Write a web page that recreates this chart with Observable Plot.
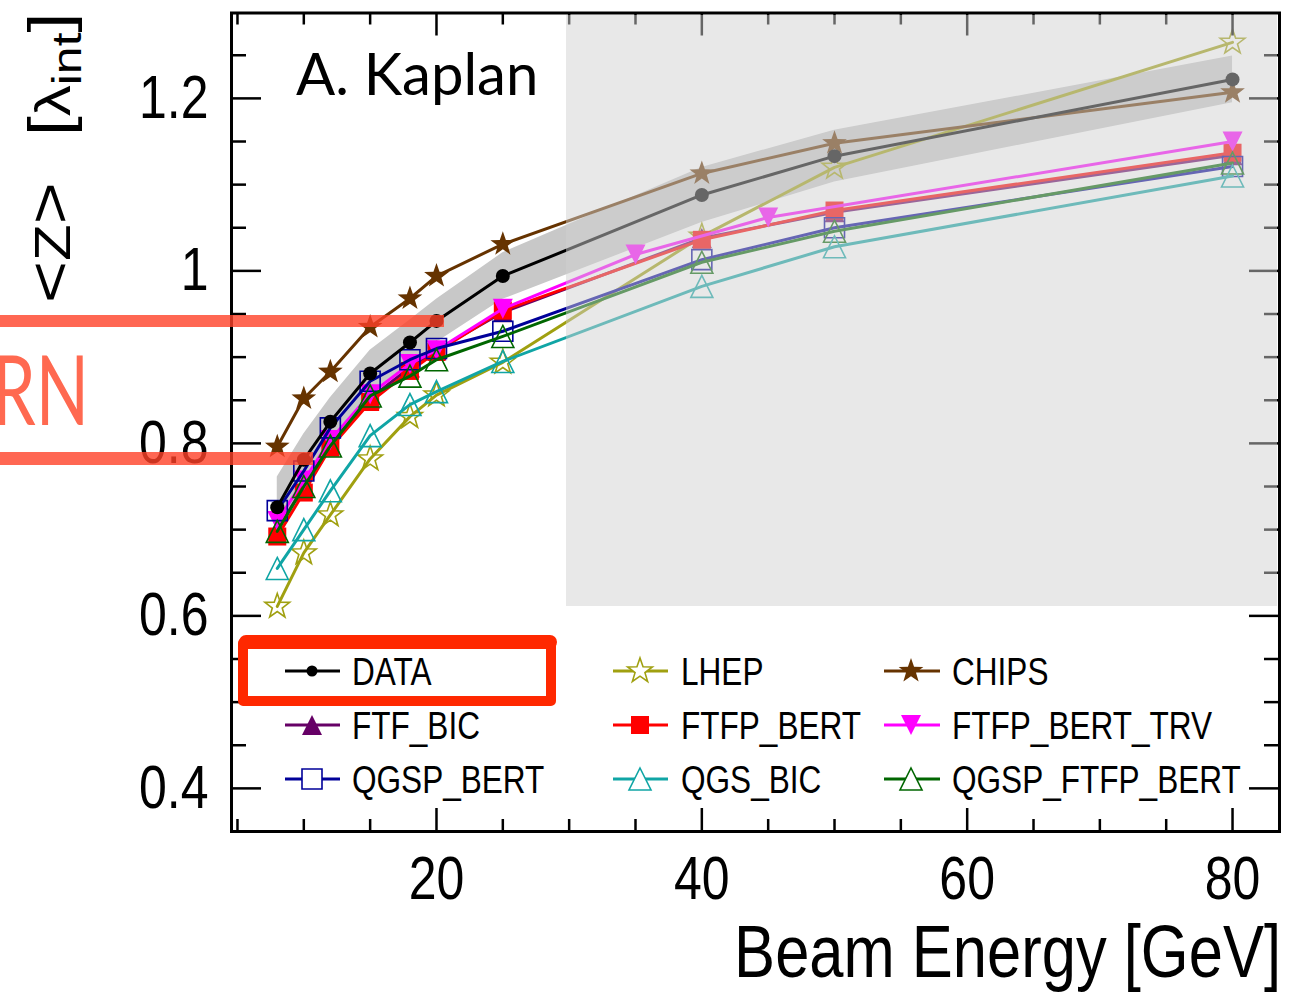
<!DOCTYPE html>
<html><head><meta charset="utf-8">
<script src="https://cdn.jsdelivr.net/npm/d3@7"></script>
<script src="https://cdn.jsdelivr.net/npm/@observablehq/plot@0.6"></script>
<style>
body{margin:0;background:#fff;}
#wrap{position:relative;width:1297px;height:992px;overflow:hidden;background:#fff;}
#wrap > svg{position:absolute;left:0;top:0;}
#shade{position:absolute;left:566px;top:15px;width:711px;height:591px;background:rgba(208,208,208,0.49);}
</style></head><body><div id="wrap"></div>
<script>
// ---------------- data ----------------
const energies    = [8, 10, 12, 15, 18, 20, 25, 40, 50, 80];
const energiesTRV = [8, 10, 12, 15, 18, 20, 25, 35, 45, 80];
const dataValues  = [0.726, 0.781, 0.825, 0.881, 0.917, 0.942, 0.994, 1.088, 1.133, 1.222];
const dataErrors  = [0.035, 0.030, 0.028, 0.027, 0.026, 0.025, 0.027, 0.032, 0.030, 0.027];
const lhepValues  = [0.611, 0.673, 0.717, 0.782, 0.831, 0.856, 0.894, 1.040, 1.120, 1.265];
const chipsValues = [0.796, 0.852, 0.883, 0.935, 0.968, 0.994, 1.031, 1.113, 1.148, 1.207];
const ftfBicValues    = [0.700, 0.750, 0.800, 0.852, 0.888, 0.908, 0.952, 1.038, 1.068, 1.134];
const ftfpBertValues  = [0.692, 0.743, 0.795, 0.848, 0.884, 0.906, 0.954, 1.036, 1.070, 1.137];
const ftfpBertTrvValues = [0.710, 0.757, 0.804, 0.857, 0.892, 0.908, 0.956, 1.019, 1.062, 1.150];
const qgspBertValues  = [0.722, 0.768, 0.818, 0.872, 0.897, 0.910, 0.930, 1.013, 1.050, 1.121];
const qgsBicValues    = [0.655, 0.700, 0.745, 0.809, 0.845, 0.860, 0.895, 0.982, 1.028, 1.110];
const qgspFtfpBertValues = [0.698, 0.750, 0.797, 0.855, 0.878, 0.897, 0.924, 1.010, 1.046, 1.125];

const xTicksMajor = [20, 40, 60, 80];
const xTicksMinor = [5, 10, 15, 25, 30, 35, 45, 50, 55, 65, 70, 75];
const yTicksMajor = [0.4, 0.6, 0.8, 1, 1.2];
const yTicksMinor = [0.45, 0.5, 0.55, 0.65, 0.7, 0.75, 0.85, 0.9, 0.95, 1.05, 1.1, 1.15, 1.25];
const legendNames = ["DATA", "LHEP", "CHIPS", "FTF_BIC", "FTFP_BERT", "FTFP_BERT_TRV", "QGSP_BERT", "QGS_BIC", "QGSP_FTFP_BERT"];

// ---------------- symbols ----------------
const R = s => Math.sqrt(s / Math.PI);
const symSquare = {draw(c, s){const r=R(s); c.moveTo(-r,-r); c.lineTo(r,-r); c.lineTo(r,r); c.lineTo(-r,r); c.closePath();}};
const symTriUp  = {draw(c, s){const r=R(s); c.moveTo(0,-r); c.lineTo(r,r); c.lineTo(-r,r); c.closePath();}};
const symTriDn  = {draw(c, s){const r=R(s); c.moveTo(0,r); c.lineTo(r,-r); c.lineTo(-r,-r); c.closePath();}};
const symStar   = {draw(c, s){const r=R(s), ri=r*0.4; for(let i=0;i<10;i++){const a=-Math.PI/2+i*Math.PI/5, rr=i%2?ri:r; const x=rr*Math.cos(a), y=rr*Math.sin(a); if(i) c.lineTo(x,y); else c.moveTo(x,y);} c.closePath();}};
const symCircle = {draw(c, s){const r=R(s); c.moveTo(r,0); c.arc(0,0,r,0,2*Math.PI);}};

// series styles (draw order)
const series = [
  {name:"LHEP", E:energies, v:lhepValues, color:"#a0a010", sym:symStar, r:13, open:true},
  {name:"CHIPS", E:energies, v:chipsValues, color:"#663300", sym:symStar, r:13, open:false},
  {name:"FTF_BIC", E:energies, v:ftfBicValues, color:"#660066", sym:symTriUp, r:10, open:false},
  {name:"FTFP_BERT", E:energies, v:ftfpBertValues, color:"#ff0000", sym:symSquare, r:9, open:false},
  {name:"FTFP_BERT_TRV", E:energiesTRV, v:ftfpBertTrvValues, color:"#ff00ff", sym:symTriDn, r:10, open:false},
  {name:"QGSP_BERT", E:energies, v:qgspBertValues, color:"#000099", sym:symSquare, r:10, open:true},
  {name:"QGSP_FTFP_BERT", E:energies, v:qgspFtfpBertValues, color:"#006600", sym:symTriUp, r:11, open:true},
  {name:"QGS_BIC", E:energies, v:qgsBicValues, color:"#10a5a5", sym:symTriUp, r:11, open:true},
  {name:"DATA", E:energies, v:dataValues, color:"#000000", sym:symCircle, r:7, open:false}
];
const styleOf = Object.fromEntries(series.map(s => [s.name, s]));

const bandRows = energies.map((E, i) => ({E, lo: dataValues[i] - dataErrors[i], hi: dataValues[i] + dataErrors[i]}));

// ---------------- plot ----------------
const W = 1297, H = 992, mL = 231, mR = 18, mT = 12.5, mB = 161;
const innerW = W - mL - mR, innerH = H - mT - mB;
const FONT = "'Liberation Sans', Arial, sans-serif";
const NARROW = 0.82;

const seriesMarks = series.flatMap(s => {
  const rows = s.E.map((E, i) => ({E, v: s.v[i]}));
  return [
    Plot.line(rows, {x:"E", y:"v", stroke:s.color, strokeWidth:3}),
    Plot.dot(rows, {x:"E", y:"v", symbol:s.sym, r:s.r,
      fill: s.open ? "none" : s.color, stroke: s.open ? s.color : "none", strokeWidth: s.open ? 1.6 : 0})
  ];
});

const chart = Plot.plot({
  width: W, height: H,
  marginLeft: mL, marginRight: mR, marginTop: mT, marginBottom: mB,
  style: {fontFamily: FONT, fontSize: "61px", background: "white", color: "black", overflow: "visible"},
  x: {domain: [4.55, 83.54]},
  y: {domain: [0.350, 1.299]},
  marks: [
    Plot.areaY(bandRows, {x:"E", y1:"lo", y2:"hi", fill:"#c8c8c8"}),
    ...seriesMarks,
    Plot.tickX(xTicksMinor, {x: d => d, insetTop: innerH - 12, stroke:"black", strokeWidth:2.5}),
    Plot.tickX(xTicksMinor, {x: d => d, insetBottom: innerH - 12, stroke:"black", strokeWidth:2.5}),
    Plot.tickX(xTicksMajor, {x: d => d, insetTop: innerH - 23, stroke:"black", strokeWidth:2.5}),
    Plot.tickX(xTicksMajor, {x: d => d, insetBottom: innerH - 23, stroke:"black", strokeWidth:2.5}),
    Plot.tickY(yTicksMinor, {y: d => d, insetRight: innerW - 15, stroke:"black", strokeWidth:2.5}),
    Plot.tickY(yTicksMinor, {y: d => d, insetLeft: innerW - 15, stroke:"black", strokeWidth:2.5}),
    Plot.tickY(yTicksMajor, {y: d => d, insetRight: innerW - 30, stroke:"black", strokeWidth:2.5}),
    Plot.tickY(yTicksMajor, {y: d => d, insetLeft: innerW - 30, stroke:"black", strokeWidth:2.5}),
    Plot.axisX({ticks: xTicksMajor, tickSize: 0, tickPadding: 24, tickFormat: d => String(d), label: null}),
    Plot.axisY({ticks: yTicksMajor, tickSize: 0, tickPadding: 23, tickFormat: d => String(d), label: null}),
    Plot.frame({stroke:"black", strokeWidth:3})
  ]
});

const wrap = document.getElementById("wrap");
wrap.appendChild(chart);

const svg = d3.select(chart);
// horizontally condense the axis tick labels (narrow Helvetica look), keeping their anchor points
svg.selectAll("g[aria-label$='tick label'] text").each(function() {
  const t = d3.select(this);
  const tr = t.attr("transform") || "";
  const x = t.attr("x"), dx = t.attr("dx");
  if (x != null && !isNaN(+x)) t.attr("x", +x / NARROW);
  if (dx != null && !isNaN(+dx)) t.attr("dx", +dx / NARROW);
  t.attr("transform", `${tr} scale(${NARROW},1)`);
});
// x axis title
svg.append("text").attr("transform", `translate(1281,977) scale(${NARROW},1)`).attr("text-anchor", "end")
  .attr("font-family", FONT).attr("font-size", 75).attr("fill", "black").text("Beam Energy [GeV]");
// y axis title: <Z>  [λ_int]
const yt = svg.append("text").attr("transform", `translate(70,303) scale(${NARROW},1) rotate(-90)`)
  .attr("text-anchor", "start").attr("font-family", FONT).attr("fill", "black");
yt.append("tspan").attr("font-size", 72).text("<");
yt.append("tspan").attr("font-size", 60).text("Z");
yt.append("tspan").attr("font-size", 72).text(">");
yt.append("tspan").attr("dx", 46).attr("font-size", 72).text("[");
yt.append("tspan").attr("font-size", 62).text("λ");
yt.append("tspan").attr("font-size", 50).attr("dy", 13).text("int");
yt.append("tspan").attr("font-size", 72).attr("dy", -13).text("]");

// ---------------- legend ----------------
const leg = d3.select(wrap).append("svg").attr("width", W).attr("height", H);
const legCols = [{x1:285, x2:340, xm:312, xt:352}, {x1:613, x2:668, xm:640, xt:681}, {x1:884, x2:940, xm:911, xt:952}];
const legRows = [671, 725, 779];
legendNames.forEach((name, i) => {
  const s = styleOf[name];
  const col = legCols[i % 3], y = legRows[Math.floor(i / 3)];
  leg.append("line").attr("x1", col.x1).attr("x2", col.x2).attr("y1", y).attr("y2", y)
    .attr("stroke", s.color).attr("stroke-width", 3);
  const rr = name === "DATA" ? 5.5 : s.r;
  leg.append("path").attr("transform", `translate(${col.xm},${y})`)
    .attr("d", d3.symbol().type(s.sym).size(Math.PI * rr * rr)())
    .attr("fill", s.open ? "white" : s.color).attr("stroke", s.open ? s.color : "none").attr("stroke-width", 1.6);
  leg.append("text").attr("transform", `translate(${col.xt},${y + 14}) scale(${NARROW},1)`).attr("font-family", FONT)
    .attr("font-size", 38.5).attr("fill", "black").text(name);
});

// ---------------- slide overlay ----------------
const shade = document.createElement("div");
shade.id = "shade";
wrap.appendChild(shade);

const ann = d3.select(wrap).append("svg").attr("width", W).attr("height", H);
ann.append("text").attr("x", 296).attr("y", 95).attr("font-family", "Lato, 'Open Sans', sans-serif")
  .attr("font-size", 58).attr("fill", "black").text("A. Kaplan");
ann.append("rect").attr("x", 0).attr("y", 315).attr("width", 444).attr("height", 12).attr("fill", "rgba(255,65,40,0.8)");
ann.append("rect").attr("x", 0).attr("y", 452).attr("width", 313).attr("height", 13).attr("fill", "rgba(255,65,40,0.8)");
ann.append("text").attr("transform", "translate(89,425) scale(0.72,1)").attr("text-anchor", "end")
  .attr("font-family", "Lato, 'Open Sans', sans-serif").attr("font-size", 97).attr("fill", "rgb(255,105,80)").text("RN");
ann.append("rect").attr("x", 243).attr("y", 643).attr("width", 308).attr("height", 58)
  .attr("fill", "none").attr("stroke", "rgb(255,40,0)").attr("stroke-width", 10).attr("stroke-linejoin", "round");
ann.append("line").attr("x1", 246).attr("x2", 550).attr("y1", 642).attr("y2", 642)
  .attr("stroke", "rgb(255,40,0)").attr("stroke-width", 14).attr("stroke-linecap", "round");
</script></body></html>
